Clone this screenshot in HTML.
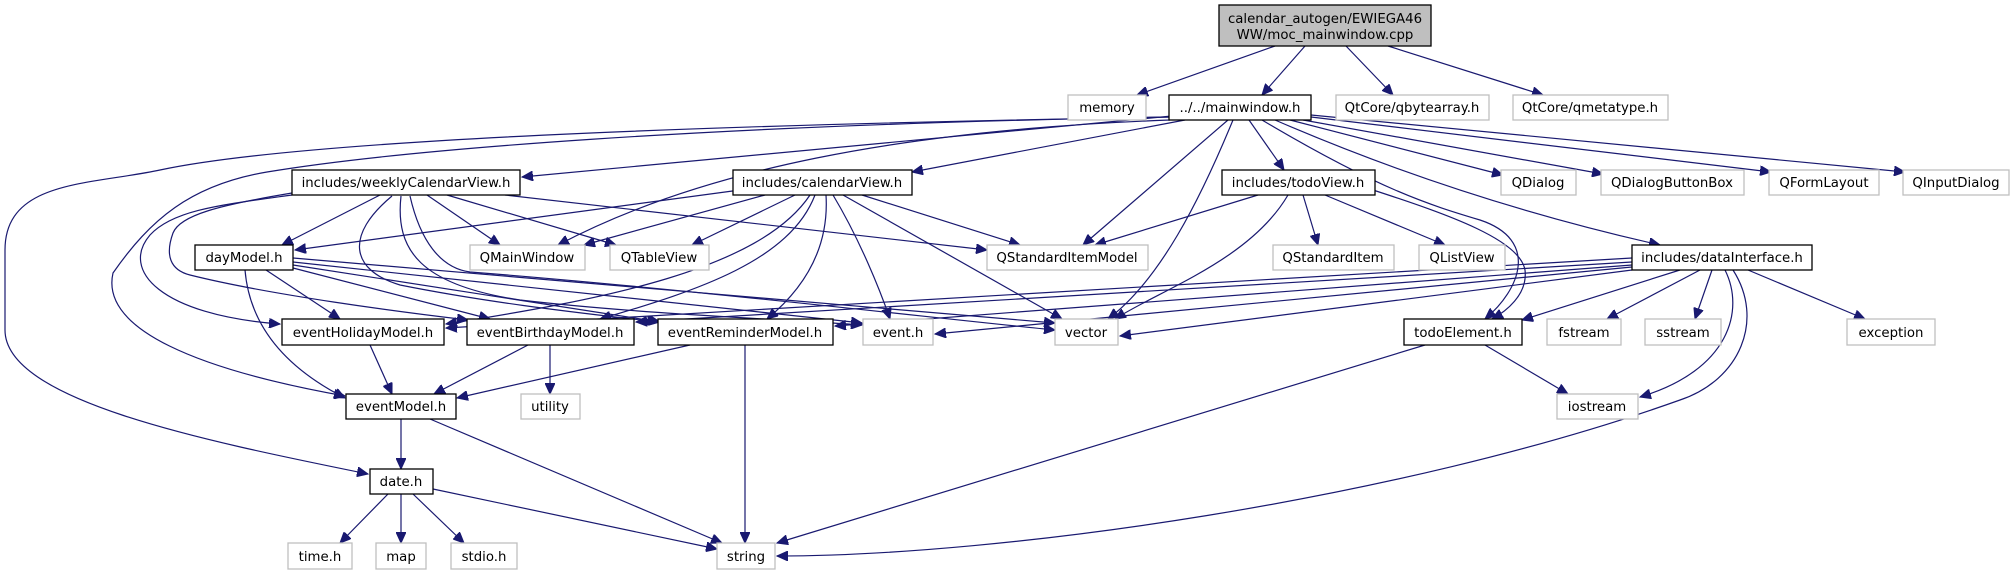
<!DOCTYPE html>
<html><head><meta charset="utf-8"><style>
html,body{margin:0;padding:0;background:#fff;}
svg{display:block;}
text{font-family:"DejaVu Sans","Liberation Sans",sans-serif;font-size:13.3px;fill:#000;text-anchor:middle;}
.b{fill:#fff;stroke:#000;stroke-width:1.3;}
.g{fill:#fff;stroke:#bfbfbf;stroke-width:1.3;}
.e{fill:none;stroke:#191970;stroke-width:1.2;marker-end:url(#a);}
</style></head><body>
<svg width="2011" height="575" viewBox="0 0 2011 575" xmlns="http://www.w3.org/2000/svg">
<defs><marker id="a" markerUnits="userSpaceOnUse" markerWidth="12" markerHeight="10" refX="11" refY="5" orient="auto"><path d="M0,0 L11,5 L0,10 z" fill="#191970" stroke="#191970"/></marker></defs>

<path class="e" d="M1275,46 L1137,95"/>
<path class="e" d="M1305,46 L1262,95"/>
<path class="e" d="M1346,46 L1393,95"/>
<path class="e" d="M1388,46 L1543,95"/>

<path class="e" d="M1172,116 L522,177"/>
<path class="e" d="M1185,120 L912,172"/>
<path class="e" d="M1249,120 L1284,170"/>
<path class="e" d="M1275,120 Q1460,200 1660,245"/>
<path class="e" d="M1262,120 C1380,190 1430,205 1480,220 C1540,240 1520,290 1485,319"/>
<path class="e" d="M1373,190 C1450,215 1520,240 1525,270 C1528,295 1505,312 1492,319"/>
<path class="e" d="M1290,120 L1503,175"/>
<path class="e" d="M1303,120 L1603,174"/>
<path class="e" d="M1311,117 L1771,172"/>
<path class="e" d="M1311,115 L1905,172"/>
<path class="e" d="M1228,120 L1083,245"/>
<path class="e" d="M1170,120 C900,130 700,170 558,245"/>
<path class="e" d="M1233,120 C1200,200 1160,280 1108,319"/>
<path class="e" d="M1170,117 C700,125 300,140 160,170 C90,185 5,180 5,250 L5,330 C5,400 200,440 368,474"/>
<path class="e" d="M1170,117 C700,125 400,150 267,172 C190,185 150,220 113,273 C100,330 200,370 345,396"/>

<path class="e" d="M380,195 L282,245"/>
<path class="e" d="M427,195 L500,245"/>
<path class="e" d="M447,195 L616,245"/>
<path class="e" d="M505,195 L987,250"/>
<path class="e" d="M292,195 C220,205 173,210 150,235 C120,270 160,315 280,324"/>
<path class="e" d="M292,193 C220,205 180,215 173,233 C165,255 170,270 190,275 C270,295 400,312 468,320"/>
<path class="e" d="M392,196 C345,235 350,270 400,285 C500,305 600,315 658,322"/>
<path class="e" d="M401,196 C395,250 420,285 520,300 C650,315 800,320 862,325"/>
<path class="e" d="M410,196 C420,240 440,268 470,272 C700,290 950,320 1055,330"/>

<path class="e" d="M266,270 L340,319"/>
<path class="e" d="M245,270 C250,330 290,370 345,398"/>
<path class="e" d="M293,268 L490,319"/>
<path class="e" d="M293,265 L660,322"/>
<path class="e" d="M293,262 L862,323"/>
<path class="e" d="M293,258 L1055,323"/>

<path class="e" d="M740,190 L295,250"/>
<path class="e" d="M765,195 L584,245"/>
<path class="e" d="M795,195 L692,245"/>
<path class="e" d="M862,195 L1020,245"/>
<path class="e" d="M833,195 C860,240 880,290 890,319"/>
<path class="e" d="M843,195 L1062,319"/>
<path class="e" d="M826,195 C830,260 790,300 767,319"/>
<path class="e" d="M815,195 C790,260 700,290 600,319"/>
<path class="e" d="M810,195 C760,270 600,300 446,324"/>

<path class="e" d="M1258,195 L1095,245"/>
<path class="e" d="M1303,195 L1318,245"/>
<path class="e" d="M1325,195 L1445,245"/>
<path class="e" d="M1288,195 C1250,260 1160,290 1115,319"/>

<path class="e" d="M1632,258 L446,328"/>
<path class="e" d="M1632,262 L636,322"/>
<path class="e" d="M1632,265 L835,326"/>
<path class="e" d="M1632,267 L935,334"/>
<path class="e" d="M1632,270 L1120,336"/>
<path class="e" d="M1680,270 L1522,320"/>
<path class="e" d="M1700,270 L1607,319"/>
<path class="e" d="M1712,270 L1695,319"/>
<path class="e" d="M1725,270 C1745,310 1730,370 1640,397"/>
<path class="e" d="M1733,270 C1765,320 1740,380 1680,400 C1400,500 1000,556 777,556"/>
<path class="e" d="M1748,270 L1865,319"/>
<path class="e" d="M1425,345 L777,543"/>
<path class="e" d="M1485,345 L1568,394"/>

<path class="e" d="M370,345 L392,394"/>
<path class="e" d="M528,345 L434,394"/>
<path class="e" d="M550,345 L550,394"/>
<path class="e" d="M690,345 L457,398"/>
<path class="e" d="M745,345 L745,543"/>
<path class="e" d="M401,419 L401,469"/>
<path class="e" d="M430,419 L722,543"/>
<path class="e" d="M388,494 L340,543"/>
<path class="e" d="M401,494 L401,543"/>
<path class="e" d="M413,494 L464,543"/>
<path class="e" d="M433,489 L717,549"/>

<rect x="1219" y="5" width="212" height="41" fill="#bfbfbf" stroke="#000" stroke-width="1.3"/>
<text x="1325" y="23">calendar_autogen/EWIEGA46</text>
<text x="1325" y="39">WW/moc_mainwindow.cpp</text>

<rect class="g" x="1068" y="95" width="78" height="25"/><text x="1107" y="112">memory</text>
<rect class="b" x="1169" y="95" width="142" height="25"/><text x="1240" y="112">../../mainwindow.h</text>
<rect class="g" x="1336" y="95" width="153" height="25"/><text x="1412" y="112">QtCore/qbytearray.h</text>
<rect class="g" x="1513" y="95" width="155" height="25"/><text x="1590" y="112">QtCore/qmetatype.h</text>

<rect class="b" x="292" y="170" width="228" height="25"/><text x="406" y="187">includes/weeklyCalendarView.h</text>
<rect class="b" x="733" y="170" width="179" height="25"/><text x="822" y="187">includes/calendarView.h</text>
<rect class="b" x="1222" y="170" width="153" height="25"/><text x="1298" y="187">includes/todoView.h</text>
<rect class="g" x="1501" y="170" width="75" height="25"/><text x="1538" y="187">QDialog</text>
<rect class="g" x="1601" y="170" width="143" height="25"/><text x="1672" y="187">QDialogButtonBox</text>
<rect class="g" x="1769" y="170" width="110" height="25"/><text x="1824" y="187">QFormLayout</text>
<rect class="g" x="1903" y="170" width="106" height="25"/><text x="1956" y="187">QInputDialog</text>

<rect class="b" x="195" y="245" width="98" height="25"/><text x="244" y="262">dayModel.h</text>
<rect class="g" x="470" y="245" width="115" height="25"/><text x="527" y="262">QMainWindow</text>
<rect class="g" x="610" y="245" width="99" height="25"/><text x="659" y="262">QTableView</text>
<rect class="g" x="987" y="245" width="161" height="25"/><text x="1067" y="262">QStandardItemModel</text>
<rect class="g" x="1273" y="245" width="121" height="25"/><text x="1333" y="262">QStandardItem</text>
<rect class="g" x="1419" y="245" width="86" height="25"/><text x="1462" y="262">QListView</text>
<rect class="b" x="1632" y="245" width="180" height="25"/><text x="1722" y="262">includes/dataInterface.h</text>

<rect class="b" x="282" y="319" width="162" height="26"/><text x="363" y="337">eventHolidayModel.h</text>
<rect class="b" x="467" y="319" width="167" height="26"/><text x="550" y="337">eventBirthdayModel.h</text>
<rect class="b" x="658" y="319" width="175" height="26"/><text x="745" y="337">eventReminderModel.h</text>
<rect class="g" x="863" y="319" width="70" height="26"/><text x="898" y="337">event.h</text>
<rect class="g" x="1055" y="319" width="63" height="26"/><text x="1086" y="337">vector</text>
<rect class="b" x="1404" y="319" width="118" height="26"/><text x="1463" y="337">todoElement.h</text>
<rect class="g" x="1547" y="319" width="74" height="26"/><text x="1584" y="337">fstream</text>
<rect class="g" x="1645" y="319" width="76" height="26"/><text x="1683" y="337">sstream</text>
<rect class="g" x="1847" y="319" width="88" height="26"/><text x="1891" y="337">exception</text>

<rect class="b" x="346" y="394" width="110" height="25"/><text x="401" y="411">eventModel.h</text>
<rect class="g" x="521" y="394" width="59" height="25"/><text x="550" y="411">utility</text>
<rect class="g" x="1557" y="394" width="81" height="25"/><text x="1597" y="411">iostream</text>

<rect class="b" x="370" y="469" width="63" height="25"/><text x="401" y="486">date.h</text>

<rect class="g" x="288" y="543" width="64" height="26"/><text x="320" y="561">time.h</text>
<rect class="g" x="376" y="543" width="50" height="26"/><text x="401" y="561">map</text>
<rect class="g" x="451" y="543" width="66" height="26"/><text x="484" y="561">stdio.h</text>
<rect class="g" x="717" y="543" width="58" height="26"/><text x="746" y="561">string</text>
</svg>
</body></html>
